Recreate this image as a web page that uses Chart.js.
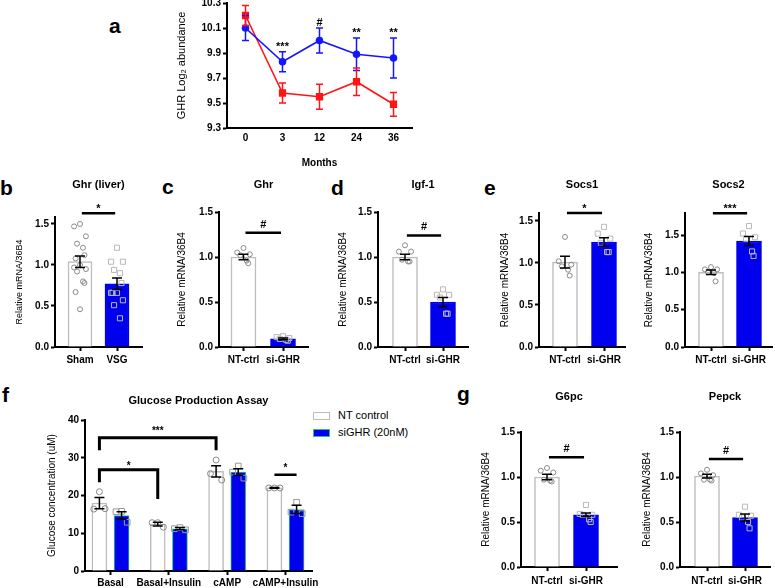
<!DOCTYPE html>
<html>
<head>
<meta charset="utf-8">
<script src="https://cdn.jsdelivr.net/npm/chart.js@4.4.1/dist/chart.umd.min.js"></script>
<style>
  html, body { margin: 0; padding: 0; background: #fff; overflow: hidden; }
  body { width: 775px; height: 588px; position: relative; }
  canvas { position: absolute; }
  .tag { position: absolute; font: bold 21px 'Liberation Sans', Arial, sans-serif; line-height: 21px; color: #000; }
  #legendF { position: absolute; left: 313px; top: 409px; font: 11px 'Liberation Sans', Arial, sans-serif; color: #000; }
  #legendF .row { height: 17px; line-height: 13px; white-space: nowrap; }
  #legendF .box { display: inline-block; width: 17px; height: 8px; box-sizing: border-box; margin-right: 8px; vertical-align: -1px; }
</style>
</head>
<body>
<div class="tag" style="left:109px;top:15px">a</div>
<div class="tag" style="left:0px;top:177px">b</div>
<div class="tag" style="left:162px;top:176px">c</div>
<div class="tag" style="left:331px;top:177px">d</div>
<div class="tag" style="left:484px;top:177px">e</div>
<div class="tag" style="left:2px;top:384px">f</div>
<div class="tag" style="left:457px;top:383px">g</div>
<div id="legendF"></div>
<script>
// ---- data: panel a (GHR abundance over months)
const months = ['0', '3', '12', '24', '36'];
const blueMean = [10.10, 9.83, 10.00, 9.89, 9.86];
const blueSem = [0.10, 0.08, 0.10, 0.13, 0.16];
const redMean = [10.20, 9.58, 9.55, 9.67, 9.49];
const redSem = [0.08, 0.08, 0.10, 0.11, 0.095];
const monthMarks = ['', '***', '#', '**', '**'];

// ---- data: panel b
const liverGroups = ['Sham', 'VSG'];
const liverMean = [1.04, 0.77];
const liverSem = [0.07, 0.07];
const liverSham = [1.50, 1.47, 1.35, 1.26, 1.21, 1.12, 1.08, 1.00, 0.97, 0.95, 0.92, 0.80, 0.78, 0.67, 0.46];
const liverVsg = [1.21, 1.04, 1.04, 0.94, 0.90, 0.78, 0.66, 0.66, 0.66, 0.57, 0.51, 0.35];

// ---- data: panels c, d, e, g (NT-ctrl vs si-GHR)
const siGroups = ['NT-ctrl', 'si-GHR'];
const ghrMean = [1.00, 0.09], ghrSem = [0.03, 0.01];
const ghrNT = [1.10, 1.05, 1.03, 1.02, 0.96, 0.93];
const ghrSi = [0.12, 0.11, 0.10, 0.09, 0.08, 0.07];
const igfMean = [1.00, 0.50], igfSem = [0.03, 0.05];
const igfNT = [1.13, 1.06, 1.06, 0.97, 0.95, 0.95];
const igfSi = [0.64, 0.58, 0.58, 0.55, 0.37, 0.37];
const socs1Mean = [1.01, 1.25], socs1Sem = [0.07, 0.05];
const socs1NT = [1.31, 1.02, 0.98, 0.96, 0.92, 0.85];
const socs1Si = [1.43, 1.35, 1.29, 1.24, 1.13, 1.13];
const socs2Mean = [1.00, 1.42], socs2Sem = [0.03, 0.06];
const socs2NT = [1.07, 1.04, 1.04, 1.00, 0.99, 0.88];
const socs2Si = [1.62, 1.52, 1.47, 1.45, 1.28, 1.22];
const g6pcMean = [1.00, 0.58], g6pcSem = [0.03, 0.02];
const g6pcNT = [1.10, 1.07, 1.05, 0.97, 0.96, 0.95];
const g6pcSi = [0.69, 0.59, 0.58, 0.58, 0.53, 0.50];
const pepckMean = [1.01, 0.55], pepckSem = [0.02, 0.04];
const pepckNT = [1.08, 1.04, 1.02, 0.97, 0.97, 0.96];
const pepckSi = [0.67, 0.58, 0.57, 0.55, 0.50, 0.43];

// ---- data: panel f (glucose production)
const assayGroups = ['Basal', 'Basal+Insulin', 'cAMP', 'cAMP+Insulin'];
const ntMean = [18.0, 12.4, 26.4, 22.0];
const ntSem = [1.5, 0.5, 1.5, 0.1];
const siMean = [14.7, 11.2, 26.2, 16.3];
const siSem = [1.0, 0.3, 0.9, 1.1];
const ntPts = [[21.0, 16.4, 16.5], [12.8, 12.8, 11.6], [29.4, 25.8, 24.1], [22.0, 22.0, 22.0]];
const siPts = [[15.8, 15.7, 12.9], [11.5, 11.2, 10.9], [27.8, 26.2, 24.6], [18.2, 15.6, 15.2]];

// ---- style
const BLUE = '#0000ee', GRAY = '#bdbdbd', WHITE = '#ffffff';
const FONT = "'Liberation Sans', Arial, sans-serif";
Chart.defaults.font.family = FONT;
Chart.defaults.color = '#000';
Chart.defaults.animation = false;

// horizontal scatter of dots inside a bar (x units)
const spread = [0, -0.16, 0.16, -0.08, 0.08, 0.12, -0.12];
function dots(vals, center, w) {
  return vals.map((v, i) => ({ x: center + spread[i % spread.length] * (w || 1), y: v }));
}

function errorBars(sets) {
  return {
    id: 'errorBars',
    afterDatasetsDraw(chart) {
      const ctx = chart.ctx, y = chart.scales.y;
      sets.forEach(s => {
        const meta = chart.getDatasetMeta(s.ds);
        const vals = chart.data.datasets[s.ds].data;
        ctx.save();
        ctx.strokeStyle = s.color || '#000';
        ctx.lineWidth = s.lw || 1.5;
        meta.data.forEach((el, i) => {
          const v = typeof vals[i] === 'object' ? vals[i].y : vals[i];
          const e = s.err[i];
          const yt = y.getPixelForValue(v + e), yb = y.getPixelForValue(v - e);
          const hw = s.cap || 5;
          ctx.beginPath();
          ctx.moveTo(el.x, yt); ctx.lineTo(el.x, yb);
          ctx.moveTo(el.x - hw, yt); ctx.lineTo(el.x + hw, yt);
          ctx.moveTo(el.x - hw, yb); ctx.lineTo(el.x + hw, yb);
          ctx.stroke();
        });
        ctx.restore();
      });
    }
  };
}

function sigMarks(items) {
  return {
    id: 'sigMarks',
    afterDatasetsDraw(chart) {
      const ctx = chart.ctx, xs = chart.scales.x, y = chart.scales.y;
      items.forEach(m => {
        const x1 = xs.getPixelForValue(m.x1), x2 = xs.getPixelForValue(m.x2 ?? m.x1);
        const yy = y.getPixelForValue(m.y);
        ctx.save();
        if (!m.noLine) {
          ctx.strokeStyle = '#000';
          ctx.lineWidth = m.lw || 2.5;
          ctx.beginPath();
          if (m.legs) {
            ctx.moveTo(x1, y.getPixelForValue(m.legs[0]));
            ctx.lineTo(x1, yy); ctx.lineTo(x2, yy);
            ctx.lineTo(x2, y.getPixelForValue(m.legs[1]));
          } else {
            ctx.moveTo(x1, yy); ctx.lineTo(x2, yy);
          }
          ctx.stroke();
        }
        ctx.fillStyle = '#000';
        ctx.font = 'bold ' + (m.size || 11) + 'px ' + FONT;
        ctx.textAlign = 'center';
        ctx.textBaseline = 'alphabetic';
        const gap = m.gap ?? (m.text.includes('#') ? 5 : 1);
        ctx.fillText(m.text, (x1 + x2) / 2, yy - gap);
        ctx.restore();
      });
    }
  };
}

function makeCanvas(f) {
  const c = document.createElement('canvas');
  c.width = f.width; c.height = f.height;
  c.style.left = f.left + 'px'; c.style.top = f.top + 'px';
  c.style.width = f.width + 'px'; c.style.height = f.height + 'px';
  document.body.appendChild(c);
  return c;
}

// canvas box from the wanted plot area
function frame(p) {
  const [l, t, r, b] = p.plot;
  const left = p.yTitleX - 10;
  const top = p.titleY - 12;
  const right = r + 30;
  const bottom = b + 30;
  return {
    left, top, width: right - left, height: bottom - top,
    yW: l - left, xH: bottom - b, padR: right - r,
    titlePad: { top: 12 - 6.6, bottom: t - p.titleY - 6.6 }
  };
}

// x range so that group 0 and the last group sit at the wanted pixel centres
function xRange(p) {
  const [l, , r] = p.plot;
  const n = p.groups.length - 1;
  const unit = (p.centers[1] - p.centers[0]) / (n || 1);
  return { min: -(p.centers[0] - l) / unit, max: n + (r - p.centers[1]) / unit };
}

function axes(f, p) {
  const ts = p.yTitleSize || 10;
  const xr = xRange(p);
  return {
    x: {
      type: 'linear', offset: false, min: xr.min, max: xr.max,
      afterFit: s => { s.height = f.xH; },
      afterBuildTicks: s => { s.ticks = p.groups.map((g, i) => ({ value: i })); },
      border: { color: '#000', width: 2 },
      grid: { offset: false, drawOnChartArea: false, tickLength: 4, tickWidth: 2, tickColor: '#000' },
      ticks: { padding: p.xPad ?? 3, maxRotation: 0, autoSkip: false, color: '#000',
               font: { size: 10, weight: 'bold' }, callback: (v, i) => p.groups[i] }
    },
    y: {
      min: 0, max: p.ymax,
      afterFit: s => { s.width = f.yW; },
      border: { color: '#000', width: 2 },
      grid: { drawOnChartArea: false, tickLength: 4, tickWidth: 2, tickColor: '#000' },
      ticks: { stepSize: p.step || 0.5, includeBounds: false, padding: 2, color: '#000',
               font: { size: 10, weight: 'bold' }, callback: v => v.toFixed(p.digits ?? 1) },
      title: { display: true, text: p.yTitle || 'Relative mRNA/36B4', color: '#000',
               font: { size: ts }, padding: { top: 10 - ts * 0.6, bottom: 0 } }
    }
  };
}

function qpcrPanel(p) {
  const f = frame(p);
  new Chart(makeCanvas(f), {
    type: 'bar',
    data: {
      datasets: [
        { type: 'bar', data: p.mean.map((v, i) => ({ x: i, y: v })), grouped: false, barThickness: p.barW || 25,
          backgroundColor: [WHITE, BLUE], borderColor: [GRAY, BLUE], borderWidth: 1.5, order: 2 },
        { type: 'scatter', data: dots(p.ptsA, 0), pointStyle: 'circle', pointRadius: 2.5,
          borderColor: '#8a8a8a', backgroundColor: 'rgba(0,0,0,0)', borderWidth: 1, order: 1 },
        { type: 'scatter', data: dots(p.ptsB, 1), pointStyle: 'rect', pointRadius: 3.6,
          borderColor: '#b8b8b8', backgroundColor: 'rgba(0,0,0,0)', borderWidth: 1, order: 1 }
      ]
    },
    options: {
      responsive: false, animation: false, events: [],
      layout: { padding: { left: 0, right: f.padR, top: 0, bottom: 0 } },
      plugins: {
        legend: { display: false }, tooltip: { enabled: false },
        title: { display: true, text: p.title, fullSize: false, color: '#000',
                 font: { size: 11, weight: 'bold' }, padding: f.titlePad }
      },
      scales: axes(f, p)
    },
    plugins: [errorBars([{ ds: 0, err: p.sem }]),
              sigMarks([{ x1: 0.05, x2: 0.95, y: p.sigY, text: p.sig }])]
  });
}

// ---- panel a
(function () {
  const f = { left: 172, top: -12, width: 268, height: 185 };
  const plot = [227, 3, 412, 128];
  new Chart(makeCanvas(f), {
    type: 'line',
    data: {
      labels: months,
      datasets: [
        { data: blueMean, borderColor: '#1515ff', backgroundColor: '#1515ff', borderWidth: 1.6,
          pointStyle: 'circle', pointRadius: 3, tension: 0 },
        { data: redMean, borderColor: '#ff1515', backgroundColor: '#ff1515', borderWidth: 1.6,
          pointStyle: 'rect', pointRadius: 4, tension: 0 }
      ]
    },
    options: {
      responsive: false, animation: false, events: [],
      layout: { padding: { left: 0, top: plot[1] - f.top, right: f.left + f.width - plot[2], bottom: 0 } },
      plugins: { legend: { display: false }, tooltip: { enabled: false } },
      scales: {
        x: {
          offset: true,
          afterFit: s => { s.height = f.top + f.height - plot[3]; },
          border: { color: '#000', width: 2 },
          grid: { offset: false, drawOnChartArea: false, drawTicks: false },
          ticks: { padding: 4, color: '#000', font: { size: 10, weight: 'bold' } },
          title: { display: true, text: 'Months', color: '#000', font: { size: 10, weight: 'bold' },
                   padding: { top: 0, bottom: 4 } }
        },
        y: {
          min: 9.3, max: 10.3,
          afterFit: s => { s.width = plot[0] - f.left; },
          border: { color: '#000', width: 2 },
          grid: { drawOnChartArea: false, tickLength: 4, tickWidth: 2, tickColor: '#000' },
          ticks: { stepSize: 0.2, padding: 2, color: '#000', font: { size: 10, weight: 'bold' },
                   callback: v => v.toFixed(1) },
          title: { display: true, text: 'GHR Log\u2082 abundance', color: '#000', font: { size: 11 },
                   padding: { top: 3.4, bottom: 0 } }
        }
      }
    },
    plugins: [
      errorBars([{ ds: 0, err: blueSem, color: '#1515ff', cap: 3.5 }, { ds: 1, err: redSem, color: '#ff1515', cap: 3.5 }]),
      sigMarks(monthMarks.map((t, i) => ({ x1: i, y: blueMean[i] + blueSem[i], text: t, noLine: true, gap: 2 }))
        .filter(m => m.text))
    ]
  });
})();

// ---- panels b-e, g
qpcrPanel({ plot: [55, 217, 142, 347], centers: [80, 117], titleY: 185, yTitleX: 20, yTitleSize: 9, ymax: 1.585,
  barW: 24, title: 'Ghr (liver)', groups: liverGroups, mean: liverMean, sem: liverSem,
  ptsA: liverSham, ptsB: liverVsg, sigY: 1.63, sig: '*' });
qpcrPanel({ plot: [219, 212, 308, 347], centers: [243.5, 283], titleY: 185, yTitleX: 182, ymax: 1.5,
  title: 'Ghr', groups: siGroups, mean: ghrMean, sem: ghrSem, ptsA: ghrNT, ptsB: ghrSi, sigY: 1.27, sig: '#' });
qpcrPanel({ plot: [378, 212, 468, 347], centers: [405, 443], titleY: 185, yTitleX: 343, ymax: 1.5,
  title: 'Igf-1', groups: siGroups, mean: igfMean, sem: igfSem, ptsA: igfNT, ptsB: igfSi, sigY: 1.24, sig: '#' });
qpcrPanel({ plot: [539, 213, 625, 347], centers: [565, 604], titleY: 185, yTitleX: 505, ymax: 1.595,
  title: 'Socs1', groups: siGroups, mean: socs1Mean, sem: socs1Sem, ptsA: socs1NT, ptsB: socs1Si, sigY: 1.595, sig: '*' });
qpcrPanel({ plot: [685, 213, 772, 347], centers: [711, 749], titleY: 185, yTitleX: 649, ymax: 1.795,
  title: 'Socs2', groups: siGroups, mean: socs2Mean, sem: socs2Sem, ptsA: socs2NT, ptsB: socs2Si, sigY: 1.79, sig: '***' });
qpcrPanel({ plot: [521, 432, 617, 567], centers: [547, 586], titleY: 397, yTitleX: 486, ymax: 1.5, xPad: 4,
  title: 'G6pc', groups: siGroups, mean: g6pcMean, sem: g6pcSem, ptsA: g6pcNT, ptsB: g6pcSi, sigY: 1.22, sig: '#' });
qpcrPanel({ plot: [680, 432, 770, 567], centers: [707, 745], titleY: 397, yTitleX: 647, ymax: 1.5, xPad: 4,
  title: 'Pepck', groups: siGroups, mean: pepckMean, sem: pepckSem, ptsA: pepckNT, ptsB: pepckSi, sigY: 1.2, sig: '#' });

// ---- panel f
(function () {
  const side = 0.19;
  const p = { plot: [85, 420, 312, 571], centers: [110.5, 285.5], titleY: 401, yTitleX: 52, ymax: 40, step: 10,
              digits: 0, xPad: 2, groups: assayGroups, yTitle: 'Glucose concentration (uM)' };
  const f = frame(p);
  const ntDots = [], siDots = [];
  assayGroups.forEach((g, i) => {
    ntDots.push(...dots(ntPts[i], i - side, 0.6));
    siDots.push(...dots(siPts[i], i + side, 0.6));
  });
  const chart = new Chart(makeCanvas(f), {
    type: 'bar',
    data: {
      datasets: [
        { label: 'NT control', data: ntMean.map((v, i) => ({ x: i - side, y: v })), grouped: false, barThickness: 15,
          backgroundColor: WHITE, borderColor: GRAY, borderWidth: 1.5, order: 2 },
        { label: 'siGHR (20nM)', data: siMean.map((v, i) => ({ x: i + side, y: v })), grouped: false, barThickness: 15,
          backgroundColor: BLUE, borderColor: '#2ec27e', borderWidth: 1, order: 2 },
        { type: 'scatter', label: 'nt', data: ntDots, pointStyle: 'circle', pointRadius: 3,
          borderColor: '#8a8a8a', backgroundColor: 'rgba(0,0,0,0)', borderWidth: 1, order: 1 },
        { type: 'scatter', label: 'si', data: siDots, pointStyle: 'rect', pointRadius: 4,
          borderColor: '#9a9a9a', backgroundColor: 'rgba(0,0,0,0)', borderWidth: 1, order: 1 }
      ]
    },
    options: {
      responsive: false, animation: false, events: [],
      layout: { padding: { left: 0, right: f.padR, top: 0, bottom: 0 } },
      plugins: {
        tooltip: { enabled: false },
        legend: { display: false },
        title: { display: true, text: 'Glucose Production Assay', fullSize: false, color: '#000',
                 font: { size: 11, weight: 'bold' }, padding: f.titlePad }
      },
      scales: axes(f, p)
    },
    plugins: [
      errorBars([{ ds: 0, err: ntSem }, { ds: 1, err: siSem }]),
      sigMarks([
        { x1: -side, x2: 2 - side, y: 35.3, legs: [32, 32], text: '***', lw: 3, gap: 4, size: 10 },
        { x1: -side, x2: 1 - side, y: 26.8, legs: [23.5, 19.1], text: '*', lw: 3, gap: 1, size: 10 },
        { x1: 3 - side, x2: 3 + side, y: 25.5, text: '*', gap: 4, size: 10 }
      ])
    ]
  });

  // html legend built from the chart's own legend items
  const box = document.getElementById('legendF');
  Chart.defaults.plugins.legend.labels.generateLabels(chart)
    .filter(it => it.datasetIndex < 2)
    .forEach(it => {
      const row = document.createElement('div');
      row.className = 'row';
      const sw = document.createElement('span');
      sw.className = 'box';
      sw.style.background = it.fillStyle;
      sw.style.border = '1.5px solid ' + it.strokeStyle;
      row.appendChild(sw);
      row.appendChild(document.createTextNode(it.text));
      box.appendChild(row);
    });
})();
</script>
</body>
</html>
